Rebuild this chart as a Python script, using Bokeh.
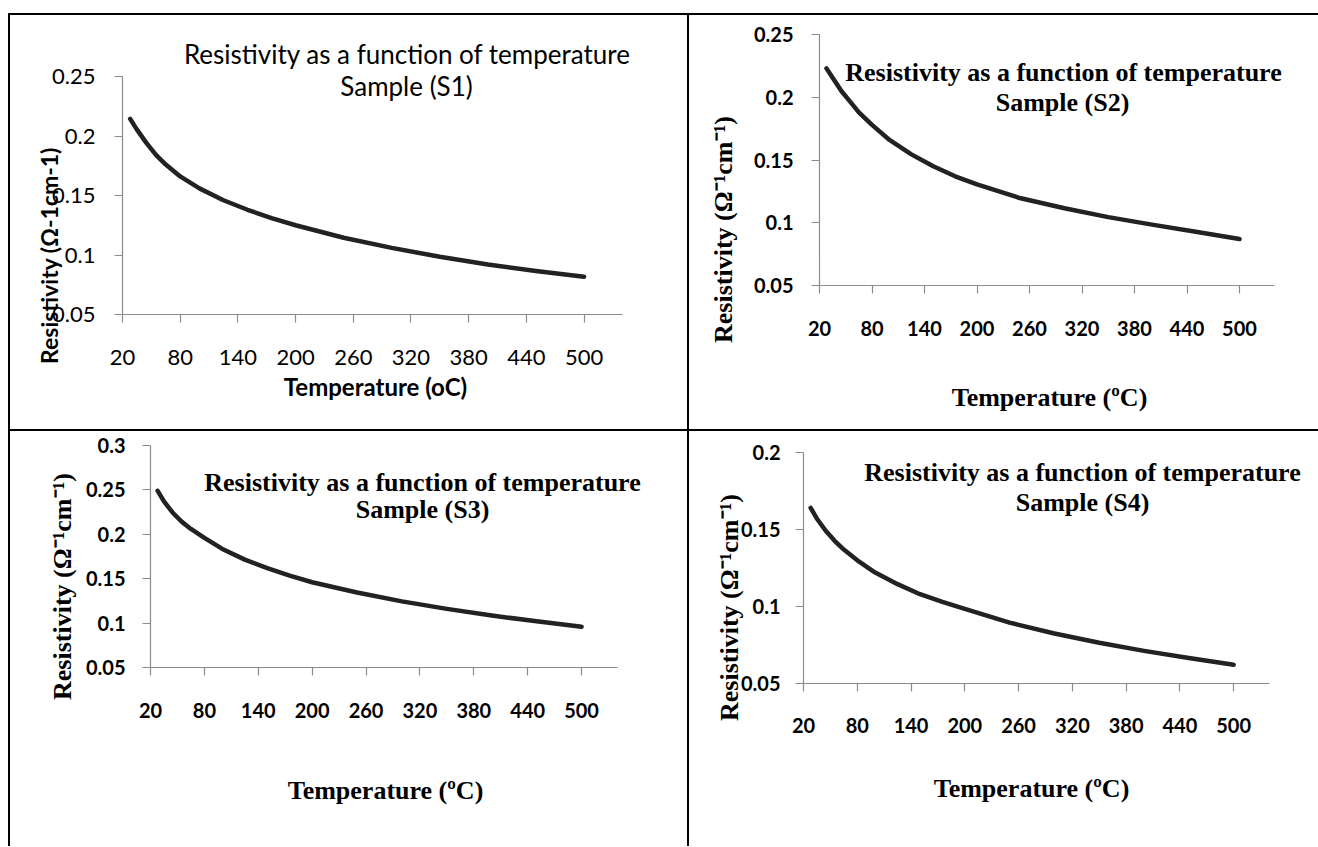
import math
from bokeh.plotting import figure
from bokeh.models import Range1d, FixedTicker, Label, Spacer
from bokeh.layouts import row, column
from bokeh.embed import file_html
from bokeh.resources import INLINE

# ---------------- data ----------------
temperature = [28, 35, 45, 55, 65, 80, 100, 125, 150, 175, 200, 250, 300, 350, 400, 450, 500]
resistivity_s1 = [0.2144, 0.2054, 0.194, 0.184, 0.176, 0.166, 0.156, 0.146, 0.138, 0.131, 0.125,
                  0.1145, 0.106, 0.0985, 0.092, 0.0865, 0.0818]
resistivity_s2 = [0.223, 0.2155, 0.205, 0.1965, 0.188, 0.178, 0.166, 0.1545, 0.145, 0.137, 0.1305,
                  0.1195, 0.1115, 0.1045, 0.0985, 0.0928, 0.087]
resistivity_s3 = [0.249, 0.237, 0.224, 0.214, 0.206, 0.196, 0.1835, 0.1715, 0.162, 0.1535, 0.146,
                  0.1345, 0.1245, 0.116, 0.1085, 0.102, 0.096]
resistivity_s4 = [0.164, 0.157, 0.149, 0.1425, 0.137, 0.130, 0.122, 0.1145, 0.108, 0.103, 0.0985,
                  0.0895, 0.0825, 0.0765, 0.0712, 0.0665, 0.0622]

x_ticks = [20, 80, 140, 200, 260, 320, 380, 440, 500]
x_tick_labels = ["20", "80", "140", "200", "260", "320", "380", "440", "500"]
y_ticks_025 = [0.05, 0.1, 0.15, 0.2, 0.25]
y_tick_labels_025 = ["0.05", "0.1", "0.15", "0.2", "0.25"]
y_ticks_030 = [0.05, 0.1, 0.15, 0.2, 0.25, 0.3]
y_tick_labels_030 = ["0.05", "0.1", "0.15", "0.2", "0.25", "0.3"]
y_ticks_020 = [0.05, 0.1, 0.15, 0.2]
y_tick_labels_020 = ["0.05", "0.1", "0.15", "0.2"]

title_text = "Resistivity as a function of temperature"
sample_names = ["Sample (S1)", "Sample (S2)", "Sample (S3)", "Sample (S4)"]
x_title_s1 = "Temperature (oC)"
y_title_s1 = "Resistivity (Ω-1cm-1)"
x_title_tnr = "Temperature (ºC)"
y_title_tnr = "Resistivity (Ω⁻¹cm⁻¹)"

AXIS_GREY = "#8c8c8c"
LINE_COL = "#222222"
SANS = "Lato"
SERIF = "Liberation Serif"
X_MIN, X_MAX = 20, 540


def make_panel(cfg):
    W, H = cfg["W"], cfg["H"]
    L, R, T, B = cfg["L"], cfg["R"], cfg["T"], cfg["B"]
    y0, y1 = cfg["yr"]
    kx = (W - L - R) / (X_MAX - X_MIN)
    ky = (H - T - B) / (y1 - y0)
    xs, xe = X_MIN - L / kx, X_MAX + R / kx
    ys, ye = y0 - B / ky, y1 + T / ky

    p = figure(width=W, height=H, x_range=Range1d(xs, xe), y_range=Range1d(ys, ye),
               output_backend="svg", toolbar_location=None,
               min_border_left=0, min_border_right=0, min_border_top=0, min_border_bottom=0)
    p.grid.visible = False
    p.outline_line_color = None
    p.background_fill_color = "white"
    p.border_fill_color = "white"

    def fx(lx):
        return xs + lx / kx

    def fy(ly):
        return ye - ly / ky

    for ax in (p.xaxis[0], p.yaxis[0]):
        ax.axis_line_color = AXIS_GREY
        ax.axis_line_width = 1.2
        ax.major_tick_line_color = AXIS_GREY
        ax.major_tick_line_width = 1.2
        ax.major_tick_out = 8
        ax.major_tick_in = 0
        ax.minor_tick_out = 0
        ax.minor_tick_in = 0
        ax.major_label_text_color = "black"
        ax.major_label_text_font = SANS
        ax.major_label_text_font_size = cfg["tick_size"]
        ax.major_label_text_font_style = cfg["tick_style"]

    xa, ya = p.xaxis[0], p.yaxis[0]
    xa.fixed_location = y0
    xa.bounds = (X_MIN, X_MAX)
    xa.ticker = FixedTicker(ticks=x_ticks)
    xa.major_label_overrides = dict(zip(x_ticks, x_tick_labels))
    xa.major_label_standoff = cfg["xstand"]
    ya.fixed_location = X_MIN
    ya.bounds = (y0, y1)
    ya.ticker = FixedTicker(ticks=cfg["yticks"])
    ya.major_label_overrides = dict(zip(cfg["yticks"], cfg["ylabels"]))
    ya.major_label_standoff = cfg["ystand"]

    p.line(temperature, cfg["values"], line_color=LINE_COL, line_width=4.5,
           line_cap="round", line_join="round")

    tf, tsz, tst = cfg["title_font"], cfg["title_size"], cfg["title_style"]
    (t1x, t1y), (t2x, t2y) = cfg["title_pos"]
    p.add_layout(Label(x=fx(t1x), y=fy(t1y), text=title_text, text_align="center",
                       text_baseline="middle", text_font=tf, text_font_size=tsz,
                       text_font_style=tst, text_color="black"))
    p.add_layout(Label(x=fx(t2x), y=fy(t2y), text=cfg["sample"], text_align="center",
                       text_baseline="middle", text_font=tf, text_font_size=tsz,
                       text_font_style=tst, text_color="black"))
    xtx, xty = cfg["xtitle_pos"]
    p.add_layout(Label(x=fx(xtx), y=fy(xty), text=cfg["xtitle"], text_align="center",
                       text_baseline="middle", text_font=cfg["axt_font"],
                       text_font_size=cfg["axt_size"], text_font_style="bold",
                       text_color="black"))
    ytx, yty = cfg["ytitle_pos"]
    p.add_layout(Label(x=fx(ytx), y=fy(yty), text=cfg["ytitle"], text_align="center",
                       text_baseline="middle", text_font=cfg["axt_font"],
                       text_font_size=cfg["yaxt_size"], text_font_style="bold",
                       angle=math.pi / 2, text_color="black"))
    return p


cfgs = [
    dict(W=677, H=414, L=112, R=65, T=61, B=115, yr=(0.05, 0.25), values=resistivity_s1,
         yticks=y_ticks_025, ylabels=y_tick_labels_025, tick_size="22px", tick_style="normal",
         xstand=27, ystand=19, title_font=SANS, title_size="26px", title_style="normal",
         title_pos=((397, 38), (396, 70)), sample=sample_names[0],
         xtitle=x_title_s1, ytitle=y_title_s1, axt_font=SANS, axt_size="24px", yaxt_size="23px",
         xtitle_pos=(365, 371), ytitle_pos=(38, 240)),
    dict(W=629, H=414, L=130, R=44, T=19, B=144, yr=(0.05, 0.25), values=resistivity_s2,
         yticks=y_ticks_025, ylabels=y_tick_labels_025, tick_size="20px", tick_style="bold",
         xstand=27, ystand=18, title_font=SERIF, title_size="26px", title_style="bold",
         title_pos=((374, 57), (373, 87)), sample=sample_names[1],
         xtitle=x_title_tnr, ytitle=y_title_tnr, axt_font=SERIF, axt_size="26px", yaxt_size="26px",
         xtitle_pos=(360, 382), ytitle_pos=(34, 214)),
    dict(W=677, H=415, L=140, R=70, T=14, B=179, yr=(0.05, 0.3), values=resistivity_s3,
         yticks=y_ticks_030, ylabels=y_tick_labels_030, tick_size="20px", tick_style="bold",
         xstand=27, ystand=17, title_font=SERIF, title_size="26px", title_style="bold",
         title_pos=((412, 51), (412, 78)), sample=sample_names[2],
         xtitle=x_title_tnr, ytitle=y_title_tnr, axt_font=SERIF, axt_size="26px", yaxt_size="26px",
         xtitle_pos=(375, 359), ytitle_pos=(52, 155)),
    dict(W=629, H=415, L=114, R=49, T=21, B=163, yr=(0.05, 0.2), values=resistivity_s4,
         yticks=y_ticks_020, ylabels=y_tick_labels_020, tick_size="20px", tick_style="bold",
         xstand=26, ystand=15, title_font=SERIF, title_size="26px", title_style="bold",
         title_pos=((393, 41), (393, 71)), sample=sample_names[3],
         xtitle=x_title_tnr, ytitle=y_title_tnr, axt_font=SERIF, axt_size="26px", yaxt_size="26px",
         xtitle_pos=(342, 357), ytitle_pos=(40, 176)),
]

p1, p2, p3, p4 = [make_panel(c) for c in cfgs]


def bar(w, h):
    return Spacer(width=w, height=h, styles={"background-color": "black"})


top_row = row(bar(2, 414), p1, bar(2, 414), p2, spacing=0)
bot_row = row(bar(2, 415), p3, bar(2, 415), p4, spacing=0)
grid = column(bar(1310, 2), top_row, bar(1310, 2), bot_row, spacing=0)
page = column(Spacer(width=1318, height=13), row(Spacer(width=8, height=833), grid, spacing=0),
              spacing=0)

open("out.html", "w").write(file_html(page, INLINE))
